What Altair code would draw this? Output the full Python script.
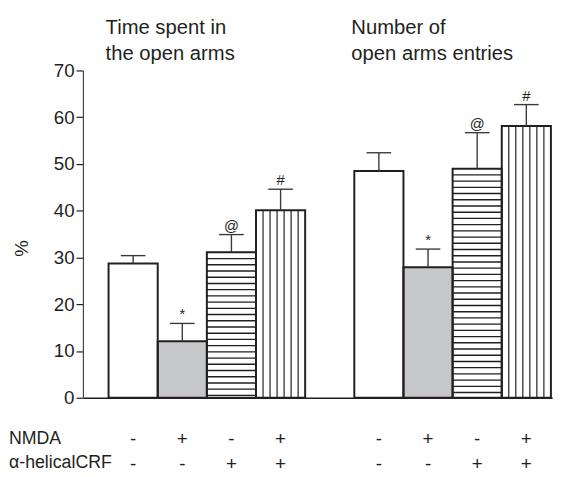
import altair as alt
import pandas as pd

# ---------------- data ----------------
bars = ["b1", "b2", "b3", "b4", "b5", "b6", "b7", "b8"]
slots = ["b1", "b2", "b3", "b4", "gap", "b5", "b6", "b7", "b8"]
group_first_bar = ["b1", "b5"]
group_titles = ["Time spent in\nthe open arms", "Number of\nopen arms entries"]
values = [28.7, 12.1, 31.1, 40.1, 48.5, 27.9, 49.0, 58.1]
sems = [1.7, 3.8, 3.8, 4.5, 3.9, 3.9, 7.7, 4.6]
patterns = ["open", "grey", "horizontal", "vertical"] * 2
marks = ["", "*", "@", "#", "", "*", "@", "#"]
nmda = ["-", "+", "-", "+", "-", "+", "-", "+"]
crf = ["-", "-", "+", "+", "-", "-", "+", "+"]
row_titles = ["NMDA", "α-helicalCRF"]
y_ticks = [0, 10, 20, 30, 40, 50, 60, 70]

# ---------------- style ----------------
INK = "#231f20"
FONT = "Liberation Sans"
W, H = 476, 332
STEP = 49.85   # band width in px
HSTEP = 1.33   # spacing of horizontal hatching (data units)
NV = 6         # interior vertical hatch lines

df = pd.DataFrame({"bar": bars, "value": values, "sem": sems, "pattern": patterns,
                   "mark": marks, "nmda": nmda, "crf": crf})
df["top"] = df["value"] + df["sem"]
df["zero"] = 0.0

h_rows = []
for b, v, p in zip(bars, values, patterns):
    if p == "horizontal":
        k = 1
        while v - k * HSTEP > 0.4:
            h_rows.append({"bar": b, "y": v - k * HSTEP})
            k += 1
hdf = pd.DataFrame(h_rows)

vdf = df[df["pattern"] == "vertical"][["bar", "value", "zero"]]

gdf = pd.DataFrame({"bar": group_first_bar, "title": group_titles})

x_scale = alt.Scale(domain=slots, paddingInner=0, paddingOuter=0.274, align=0.952)
x_axis = alt.Axis(domain=True, labels=False, ticks=False, title=None, grid=False,
                  domainColor=INK, domainWidth=1.5)
y_scale = alt.Scale(domain=[0, 70], nice=False)
y_axis = alt.Axis(values=y_ticks, title="%", grid=False, domainColor="#444", domainWidth=1.2,
                  tickColor=INK, tickSize=7, tickWidth=1.2, labelPadding=2,
                  labelFont=FONT, labelFontSize=19, labelColor=INK,
                  titleFont=FONT, titleFontSize=19, titleFontWeight="normal", titleColor=INK,
                  titleX=-62, titleY=180, titleBaseline="middle", titleAlign="center")


def X(**kw):
    return alt.X("bar:N", scale=x_scale, axis=x_axis, **kw)


def Y(field):
    return alt.Y(field, type="quantitative", scale=y_scale, axis=y_axis)


base = alt.Chart(df)

fills = base.mark_bar(strokeWidth=0).encode(
    x=X(), y=Y("value"), y2="zero",
    fill=alt.Fill("pattern:N", legend=None,
                  scale=alt.Scale(domain=["open", "grey", "horizontal", "vertical"],
                                  range=["#ffffff", "#c6c7c9", "#ffffff", "#ffffff"])))

hstripes = alt.Chart(hdf).mark_tick(color=INK, size=STEP, thickness=1.4, opacity=1).encode(
    x=X(), y=Y("y"))

vstripes = [
    alt.Chart(vdf).mark_rule(color=INK, strokeWidth=1.2,
                             xOffset=STEP * (k / (NV + 1) - 0.5)).encode(
        x=X(), y=Y("zero"), y2="value")
    for k in range(1, NV + 1)
]

outlines = base.mark_bar(fillOpacity=0, stroke=INK, strokeWidth=2).encode(
    x=X(), y=Y("value"), y2="zero")

err = base.mark_rule(color="#3a3a3a", strokeWidth=1.4).encode(
    x=X(), y=Y("value"), y2="top")

caps = base.mark_tick(color="#3a3a3a", size=25, thickness=1.4, opacity=1).encode(
    x=X(), y=Y("top"))

annot = base.mark_text(font=FONT, fontSize=15, color=INK, baseline="alphabetic", dy=-4).encode(
    x=X(), y=Y("top"), text="mark:N")

titles = alt.Chart(gdf).mark_text(font=FONT, fontSize=20.5, color=INK, align="left",
                                  baseline="alphabetic", lineBreak="\n", lineHeight=26,
                                  dx=-3).encode(
    x=X(bandPosition=0), y=alt.value(-37), text="title:N")

row1 = base.mark_text(font=FONT, fontSize=19, color=INK, baseline="middle").encode(
    x=X(), y=alt.value(373.7), text="nmda:N")
row2 = base.mark_text(font=FONT, fontSize=19, color=INK, baseline="middle").encode(
    x=X(), y=alt.value(399.7), text="crf:N")

rdf = pd.DataFrame({"t": row_titles})
rt1 = alt.Chart(rdf).transform_filter(alt.datum.t == row_titles[0]).mark_text(
    font=FONT, fontSize=18, color=INK, align="left", baseline="middle").encode(
    x=alt.value(-75), y=alt.value(374), text="t:N")
rt2 = alt.Chart(rdf).transform_filter(alt.datum.t == row_titles[1]).mark_text(
    font=FONT, fontSize=18, color=INK, align="left", baseline="middle").encode(
    x=alt.value(-75), y=alt.value(398), text="t:N")

chart = alt.layer(fills, hstripes, *vstripes, outlines, err, caps, annot, titles,
                  row1, row2, rt1, rt2).properties(
    width=W, height=H,
    autosize=alt.AutoSizeParams(type="none"),
    padding={"left": 76, "top": 60, "right": 14, "bottom": 77},
    background="white",
).configure_view(stroke="transparent")

chart.save("out.html", embed_options={"renderer": "svg", "actions": False})
